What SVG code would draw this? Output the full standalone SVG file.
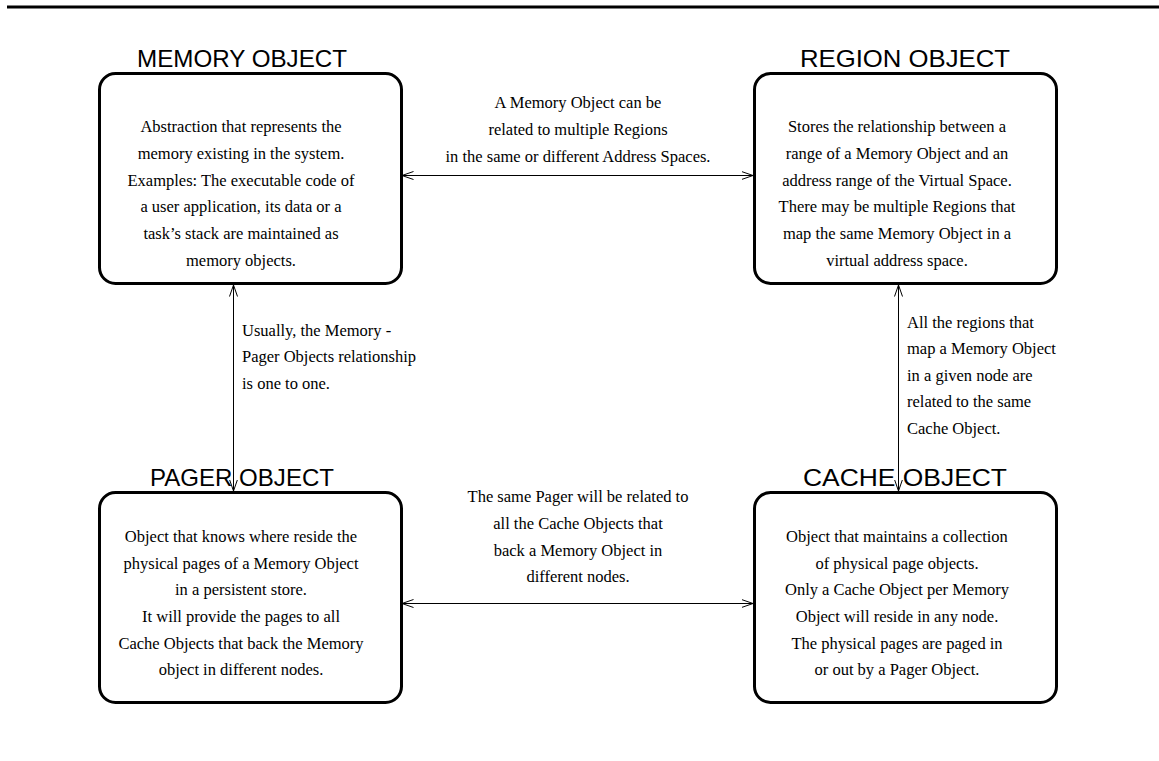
<svg xmlns="http://www.w3.org/2000/svg" width="1159" height="761" viewBox="0 0 1159 761">
<style>
.box{fill:#fff;stroke:#000;stroke-width:3}
.title{font-family:"Liberation Sans",Arial,sans-serif;font-size:24px;fill:#000}
.t{font-family:"Liberation Serif","Times New Roman",serif;font-size:16.5px;fill:#000}
.c{text-anchor:middle}
.conn{stroke:#000;stroke-width:1;fill:none;marker-start:url(#ah);marker-end:url(#ah)}
</style>
<defs>
<marker id="ah" markerUnits="userSpaceOnUse" viewBox="0 0 12 10" refX="11.5" refY="5" markerWidth="12" markerHeight="10" orient="auto-start-reverse">
<path d="M0,1 L11.5,5 L0,9" fill="none" stroke="#000" stroke-width="1"/>
</marker>
</defs>
<rect width="1159" height="761" fill="#fff"/>
<line x1="7" y1="7" x2="1159" y2="7" stroke="#000" stroke-width="3"/>

<g id="memory">
<text class="title" x="137" y="67" textLength="210" lengthAdjust="spacingAndGlyphs">MEMORY OBJECT</text>
<rect class="box" x="99.5" y="73.5" width="302" height="210" rx="16"/>
<text class="t c" x="241" y="132">Abstraction that represents the</text>
<text class="t c" x="241" y="159">memory existing in the system.</text>
<text class="t c" x="241" y="186">Examples: The executable code of</text>
<text class="t c" x="241" y="212">a user application, its data or a</text>
<text class="t c" x="241" y="239">task’s stack are maintained as</text>
<text class="t c" x="241" y="266">memory objects.</text>
</g>

<g id="region">
<text class="title" x="800" y="67" textLength="210" lengthAdjust="spacingAndGlyphs">REGION OBJECT</text>
<rect class="box" x="754.5" y="73.5" width="302" height="210" rx="16"/>
<text class="t c" x="897" y="132">Stores the relationship between a</text>
<text class="t c" x="897" y="159">range of a Memory Object and an</text>
<text class="t c" x="897" y="186">address range of the Virtual Space.</text>
<text class="t c" x="897" y="212">There may be multiple Regions that</text>
<text class="t c" x="897" y="239">map the same Memory Object in a</text>
<text class="t c" x="897" y="266">virtual address space.</text>
</g>

<g id="pager">
<text class="title" x="150" y="486" textLength="184" lengthAdjust="spacingAndGlyphs">PAGER OBJECT</text>
<rect class="box" x="99.5" y="492.5" width="302" height="210" rx="16"/>
<text class="t c" x="241" y="542">Object that knows where reside the</text>
<text class="t c" x="241" y="569">physical pages of a Memory Object</text>
<text class="t c" x="241" y="595">in a persistent store.</text>
<text class="t c" x="241" y="622">It will provide the pages to all</text>
<text class="t c" x="241" y="649">Cache Objects that back the Memory</text>
<text class="t c" x="241" y="675">object in different nodes.</text>
</g>

<g id="cache">
<text class="title" x="803" y="486" textLength="204" lengthAdjust="spacingAndGlyphs">CACHE OBJECT</text>
<rect class="box" x="754.5" y="492.5" width="302" height="210" rx="16"/>
<text class="t c" x="897" y="542">Object that maintains a collection</text>
<text class="t c" x="897" y="569">of physical page objects.</text>
<text class="t c" x="897" y="595">Only a Cache Object per Memory</text>
<text class="t c" x="897" y="622">Object will reside in any node.</text>
<text class="t c" x="897" y="649">The physical pages are paged in</text>
<text class="t c" x="897" y="675">or out by a Pager Object.</text>
</g>

<g id="connectors">
<line class="conn" x1="402" y1="175.5" x2="753" y2="175.5"/>
<line class="conn" x1="402" y1="603.5" x2="753" y2="603.5"/>
<line class="conn" x1="233.5" y1="285" x2="233.5" y2="491"/>
<line class="conn" x1="898.5" y1="285" x2="898.5" y2="491"/>
<text class="t c" x="578" y="108">A Memory Object can be</text>
<text class="t c" x="578" y="135">related to multiple Regions</text>
<text class="t c" x="578" y="162">in the same or different Address Spaces.</text>
<text class="t c" x="578" y="502">The same Pager will be related to</text>
<text class="t c" x="578" y="529">all the Cache Objects that</text>
<text class="t c" x="578" y="556">back a Memory Object in</text>
<text class="t c" x="578" y="582">different nodes.</text>
<text class="t" x="242" y="336">Usually, the Memory -</text>
<text class="t" x="242" y="362">Pager Objects relationship</text>
<text class="t" x="242" y="389">is one to one.</text>
<text class="t" x="907" y="328">All the regions that</text>
<text class="t" x="907" y="354">map a Memory Object</text>
<text class="t" x="907" y="381">in a given node are</text>
<text class="t" x="907" y="407">related to the same</text>
<text class="t" x="907" y="434">Cache Object.</text>
</g>
</svg>
